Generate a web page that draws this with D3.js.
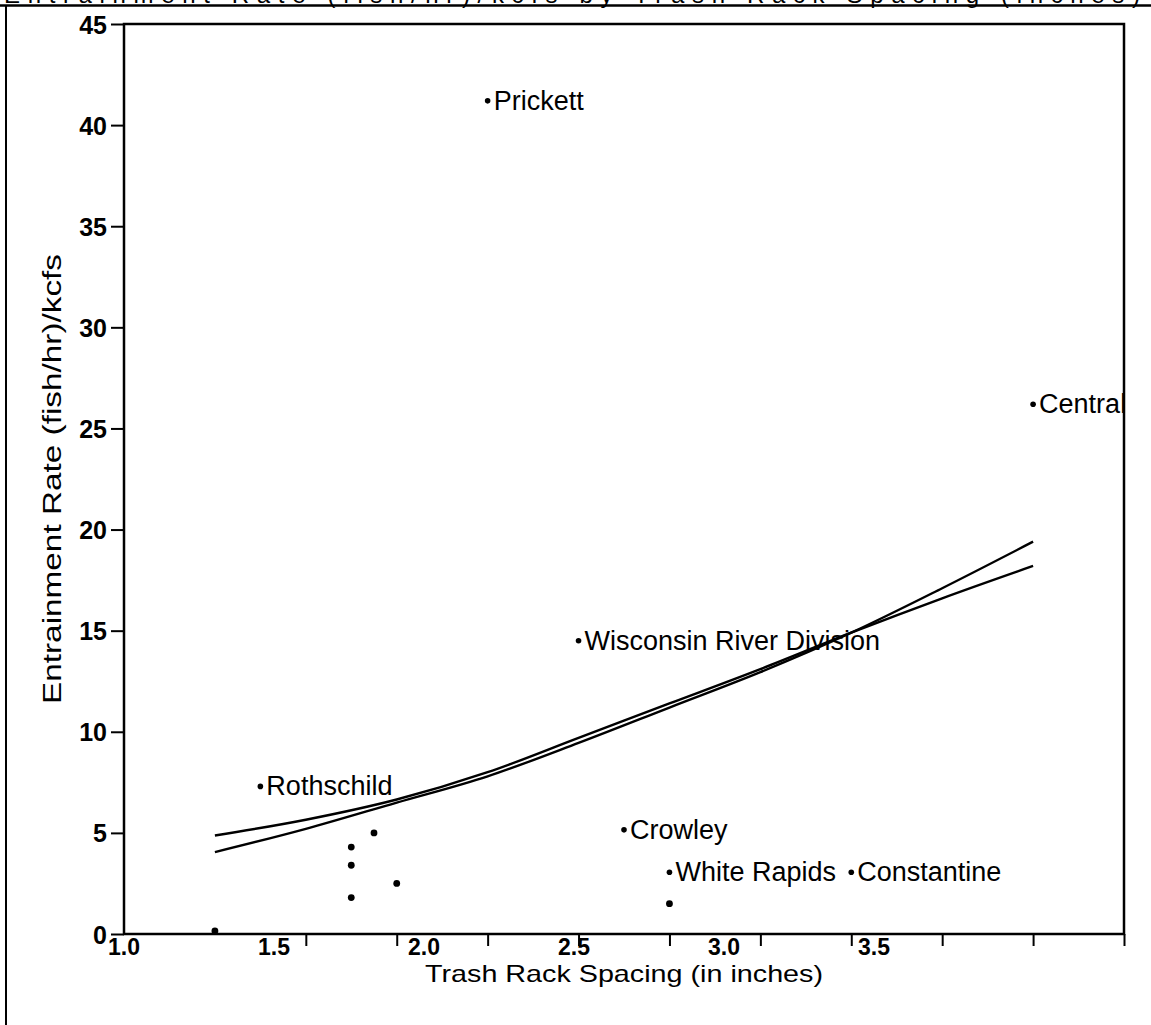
<!DOCTYPE html>
<html>
<head>
<meta charset="utf-8">
<script src="https://cdn.jsdelivr.net/npm/d3@7"></script>
<style>
  html, body { margin: 0; padding: 0; background: #fff; }
  svg { display: block; }
  text { font-family: "Liberation Sans", Arial, Helvetica, sans-serif; fill: #000; }
</style>
</head>
<body>
<svg id="chart" width="1151" height="1025"></svg>
<script>
// ---- data ----
const siteNames   = ["Prickett", "Central", "Wisconsin River Division", "Rothschild", "Crowley", "White Rapids", "Constantine"];
const siteSpacing = [2.0, 3.5, 2.25, 1.375, 2.375, 2.5, 3.0];
const siteRate    = [41.2, 26.2, 14.5, 7.3, 5.15, 3.05, 3.05];

const otherSpacing = [1.25, 1.625, 1.625, 1.625, 1.6875, 1.75, 2.5];
const otherRate    = [0.15, 4.3, 3.4, 1.8, 5.0, 2.5, 1.5];

const fitX       = [1.25, 1.5, 1.75, 2.0, 2.25, 2.5, 2.75, 3.0, 3.25, 3.5];
const fitLinear  = [4.87, 5.65, 6.65, 8.0, 9.7, 11.4, 13.1, 14.9, 16.6, 18.2];
const fitCurve   = [4.05, 5.2, 6.5, 7.8, 9.45, 11.2, 12.95, 14.9, 17.1, 19.4];

const yTickValues = [0, 5, 10, 15, 20, 25, 30, 35, 40, 45];
const xTickValues = [1.5, 1.75, 2.0, 2.25, 2.5, 2.75, 3.0, 3.25, 3.5, 3.75];
const xTickLabels = ["1.0", "1.5", "2.0", "2.5", "3.0", "3.5"];

const titleText  = "Entrainment Rate (fish/hr)/kcfs by Trash Rack Spacing (inches)";
const xAxisTitle = "Trash Rack Spacing (in inches)";
const yAxisTitle = "Entrainment Rate (fish/hr)/kcfs";

// ---- layout ----
const svg = d3.select("#chart");
const L = 124, R = 1124, T = 24, B = 934;

const x = d3.scaleLinear().domain([1.0, 3.75]).range([L, R]);
const y = d3.scaleLinear().domain([0, 45]).range([B, T]);
// tick label positions as printed (evenly spaced, offset from the tick marks)
const xLab = d3.scalePoint().domain(xTickLabels).range([124, 874]);

// outer frame + clipped title
svg.append("text")
  .attr("x", 4).attr("y", 3)
  .attr("font-size", 24)
  .attr("textLength", 1136)
  .text(titleText);
svg.append("line").attr("x1", 0).attr("x2", 1151).attr("y1", 5.5).attr("y2", 5.5)
  .attr("stroke", "#000").attr("stroke-width", 2.5);
svg.append("line").attr("x1", 6).attr("x2", 6).attr("y1", 5).attr("y2", 1025)
  .attr("stroke", "#000").attr("stroke-width", 2);

// plot frame
svg.append("rect").attr("x", L).attr("y", T).attr("width", R - L).attr("height", B - T)
  .attr("fill", "none").attr("stroke", "#000").attr("stroke-width", 2.5);

// y axis
const yAx = svg.append("g").attr("transform", `translate(${L},0)`)
  .call(d3.axisLeft(y).tickValues(yTickValues).tickSize(13).tickPadding(4).tickFormat(d3.format("d")));
yAx.select(".domain").remove();
yAx.selectAll("line").attr("stroke", "#000").attr("stroke-width", 2);
yAx.selectAll("text").attr("font-size", 25).attr("font-weight", "bold")
  .style("font-family", "'Liberation Sans', Arial, sans-serif").attr("dy", "0.36em");

// x axis ticks
const xAx = svg.append("g").attr("transform", `translate(0,${B})`)
  .call(d3.axisBottom(x).tickValues(xTickValues).tickSize(12).tickFormat(""));
xAx.select(".domain").remove();
xAx.selectAll("line").attr("stroke", "#000").attr("stroke-width", 2);

// x tick labels
svg.append("g").selectAll("text").data(xTickLabels).join("text")
  .attr("x", d => xLab(d)).attr("y", 955)
  .attr("text-anchor", "middle").attr("font-size", 23).attr("font-weight", "bold")
  .text(d => d);

// axis titles
svg.append("text").attr("x", (L + R) / 2).attr("y", 982).attr("text-anchor", "middle")
  .attr("font-size", 24).attr("textLength", 398).attr("lengthAdjust", "spacingAndGlyphs")
  .text(xAxisTitle);
svg.append("text").attr("transform", `translate(61,${(T + B) / 2}) rotate(-90)`)
  .attr("text-anchor", "middle").attr("font-size", 25)
  .attr("textLength", 450).attr("lengthAdjust", "spacingAndGlyphs")
  .text(yAxisTitle);

// fit lines
const line = d3.line().x(d => x(d[0])).y(d => y(d[1])).curve(d3.curveMonotoneX);
svg.append("path").datum(fitX.map((v, i) => [v, fitLinear[i]]))
  .attr("d", line).attr("fill", "none").attr("stroke", "#000").attr("stroke-width", 2.4);
svg.append("path").datum(fitX.map((v, i) => [v, fitCurve[i]]))
  .attr("d", line).attr("fill", "none").attr("stroke", "#000").attr("stroke-width", 2.4);

// unlabeled points
svg.append("g").selectAll("circle").data(otherSpacing.map((v, i) => [v, otherRate[i]])).join("circle")
  .attr("cx", d => x(d[0])).attr("cy", d => y(d[1])).attr("r", 3.4).attr("fill", "#000");

// labeled points
const sites = siteNames.map((n, i) => ({ n, sx: siteSpacing[i], r: siteRate[i] }));
const sg = svg.append("g").selectAll("g").data(sites).join("g")
  .attr("transform", d => `translate(${x(d.sx)},${y(d.r)})`);
sg.append("circle").attr("r", 2.8).attr("fill", "#000");
sg.append("text").attr("x", 6).attr("y", 9).attr("font-size", 27).text(d => d.n);
</script>
</body>
</html>
